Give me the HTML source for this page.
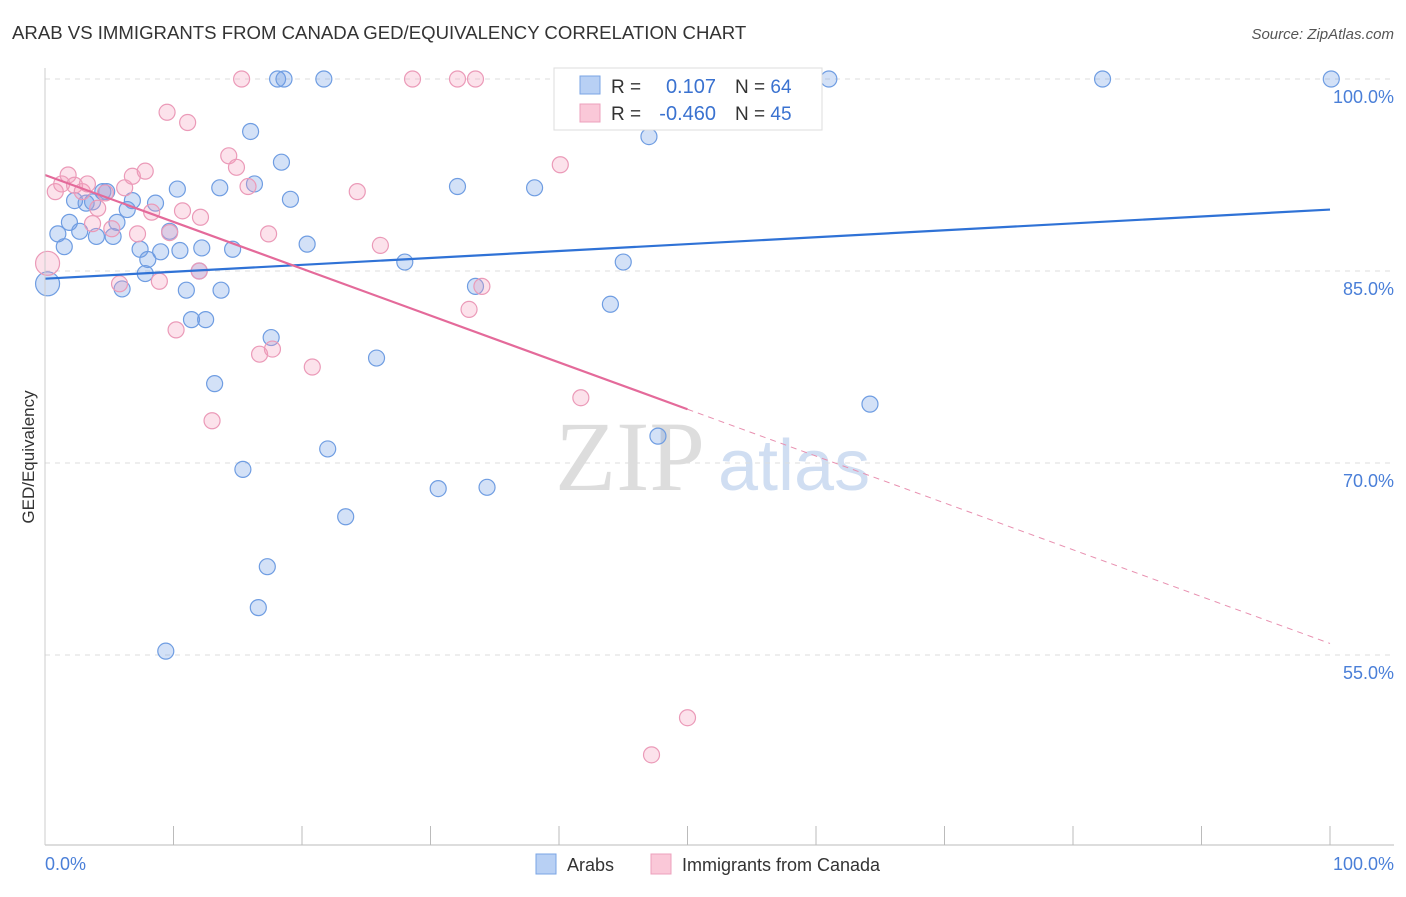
<!DOCTYPE html>
<html><head><meta charset="utf-8"><style>
body{margin:0;background:#fff;font-family:"Liberation Sans",sans-serif}
</style></head><body>
<svg width="1406" height="892" xmlns="http://www.w3.org/2000/svg" id="svg">
<text x="12" y="39" font-size="18.6" fill="#333">ARAB VS IMMIGRANTS FROM CANADA GED/EQUIVALENCY CORRELATION CHART</text>
<text x="1394" y="39" font-size="15" fill="#555" text-anchor="end" font-style="italic">Source: ZipAtlas.com</text>
<text x="555" y="490" font-size="100" fill="#ddd" font-family="Liberation Serif">ZIP</text>
<text x="718" y="490" font-size="72" fill="#d0def2">atlas</text>
<text transform="translate(34,457) rotate(-90)" font-size="17" fill="#333" text-anchor="middle">GED/Equivalency</text>
<g id="grid"></g><g id="marks"></g>
<line x1="45" y1="845" x2="1394" y2="845" stroke="#bbb"/>
<line x1="45" y1="68" x2="45" y2="845" stroke="#ccc"/>
<text x="45" y="870" font-size="18" fill="#4a7fd8">0.0%</text>
<text x="1394" y="870" font-size="18" fill="#4a7fd8" text-anchor="end">100.0%</text>
<g>
<rect x="554" y="68" width="268" height="62" fill="#fff" stroke="#ddd"/>
<rect x="580" y="76" width="20" height="18" fill="#b8d0f4" stroke="#7aa4e4"/>
<rect x="580" y="104" width="20" height="18" fill="#fac8d8" stroke="#eca0bc"/>
<text x="611" y="93" font-size="19" fill="#333">R =</text>
<text x="716" y="93" font-size="20" fill="#3a72d0" text-anchor="end">0.107</text>
<text x="735" y="93" font-size="19" fill="#333">N = <tspan fill="#3a72d0">64</tspan></text>
<text x="611" y="120" font-size="19" fill="#333">R =</text>
<text x="716" y="120" font-size="20" fill="#3a72d0" text-anchor="end">-0.460</text>
<text x="735" y="120" font-size="19" fill="#333">N = <tspan fill="#3a72d0">45</tspan></text>
</g>
<g>
<rect x="536" y="854" width="20" height="20" fill="#b8d0f4" stroke="#7aa4e4"/>
<text x="567" y="871" font-size="18" fill="#333">Arabs</text>
<rect x="651" y="854" width="20" height="20" fill="#fac8d8" stroke="#eca0bc"/>
<text x="682" y="871" font-size="18" fill="#333">Immigrants from Canada</text>
</g>
</svg>
<script>
const yTicks=[100,85,70,55];
const yTickLabels=["100.0%","85.0%","70.0%","55.0%"];
const arabsX=[0.2,1.0,1.5,1.9,2.3,2.7,3.2,3.7,4.0,4.5,4.8,5.3,5.6,6.0,6.4,6.8,7.4,7.8,8.0,8.6,9.0,9.7,10.3,10.5,11.0,11.4,12.0,12.2,12.5,13.2,13.6,13.7,14.6,15.4,16.0,16.3,16.6,17.3,17.6,18.1,18.6,18.4,19.1,20.4,21.7,22.0,23.4,25.8,28.0,30.6,32.1,33.5,34.4,38.1,44.0,45.0,47.0,47.7,61.0,64.2,82.3,100.1,9.4];
const arabsY=[84.0,87.9,86.9,88.8,90.5,88.1,90.3,90.4,87.7,91.2,91.2,87.7,88.8,83.6,89.8,90.5,86.7,84.8,85.9,90.3,86.5,88.1,91.4,86.6,83.5,81.2,85.0,86.8,81.2,76.2,91.5,83.5,86.7,69.5,95.9,91.8,58.7,61.9,79.8,100,100,93.5,90.6,87.1,100,71.1,65.8,78.2,85.7,68.0,91.6,83.8,68.1,91.5,82.4,85.7,95.5,72.1,100,74.6,100,100,55.3];
const canX=[0.2,0.8,1.3,1.8,2.3,2.9,3.3,3.7,4.1,4.7,5.2,5.8,6.2,6.8,7.2,7.8,8.3,8.9,9.5,9.7,10.2,10.7,11.1,12.1,12.0,13.0,14.3,14.9,15.3,15.8,16.7,17.4,17.7,20.8,24.3,26.1,28.6,32.1,33.0,33.5,34.0,40.1,41.7,47.2,50.0];
const canY=[85.6,91.2,91.8,92.5,91.7,91.2,91.8,88.7,89.9,91.1,88.3,84.0,91.5,92.4,87.9,92.8,89.6,84.2,97.4,88.0,80.4,89.7,96.6,89.2,85.0,73.3,94.0,93.1,100,91.6,78.5,87.9,78.9,77.5,91.2,87.0,100,100,82.0,100,83.8,93.3,75.1,47.2,50.1];
const X=v=>45+v*12.85, Y=v=>79+(100-v)*12.8;
const ns="http://www.w3.org/2000/svg";
function mk(t,a,p){const e=document.createElementNS(ns,t);for(const k in a)e.setAttribute(k,a[k]);p.appendChild(e);return e;}
const grid=document.getElementById('grid'),marks=document.getElementById('marks');
yTicks.forEach((t,i)=>{
 const l=mk('line',{x1:45,x2:1394,y1:Y(t),y2:Y(t),stroke:'#ddd','stroke-dasharray':'5,5'},grid);
 
 
 const tx=mk('text',{x:1394,y:Y(t)+24,'font-size':18,fill:'#4a7fd8','text-anchor':'end'},grid);
 tx.textContent=yTickLabels[i];
 
 
});
for(let i=0;i<=10;i++){const l=mk('line',{x1:X(i*10),x2:X(i*10),y1:826,y2:845,stroke:'#bbb'},grid);
 
 }
arabsX.forEach((x,i)=>{const c=mk('circle',{cx:X(x),cy:Y(arabsY[i]),r:i==0?12:8,fill:'rgba(110,155,230,0.3)',stroke:'#6f9de2','stroke-width':1.2},marks);
 
 });
canX.forEach((x,i)=>{const c=mk('circle',{cx:X(x),cy:Y(canY[i]),r:i==0?12:8,fill:'rgba(245,160,190,0.3)',stroke:'#eb9ab8','stroke-width':1.2},marks);
 
 });
let l=mk('line',{x1:X(0),y1:Y(84.4),x2:X(100),y2:Y(89.8),stroke:'#2f72d6','stroke-width':2.2},marks);


l=mk('line',{x1:X(0),y1:Y(92.5),x2:X(50),y2:Y(74.2),stroke:'#e46a9a','stroke-width':2.2},marks);


l=mk('line',{x1:X(50),y1:Y(74.2),x2:X(100),y2:Y(55.9),stroke:'#e890b0','stroke-width':1,'stroke-dasharray':'6,5'},marks);


</script>
</body></html>
